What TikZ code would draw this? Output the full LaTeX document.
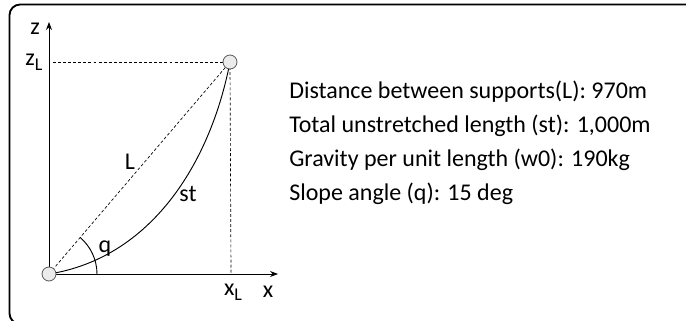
\documentclass[tikz,border=0pt]{standalone}
\usepackage{fontspec}
\setmainfont{Carlito}
\usetikzlibrary{arrows.meta}
\newcommand{\subL}{\raisebox{-0.45ex}{\fontsize{13.5}{13.5}\selectfont L}}
\begin{document}
\begin{tikzpicture}[x=0.75pt,y=-0.75pt,
  every node/.style={font=\fontsize{18}{21}\selectfont, inner sep=0pt},
  support/.style={circle, draw=black!65, fill=black!8, line width=0.6pt, minimum size=10.5pt},
  axis/.style={line width=0.75pt, -{Stealth[length=6pt,width=4.5pt]}},
  guide/.style={line width=0.5pt, dash pattern=on 2.2pt off 1.6pt},
  cable/.style={line width=0.7pt},
  info/.style={anchor=west}]
\useasboundingbox (0,0) rectangle (686,321);
\begin{scope}
\clip (0,0) rectangle (686,321);
\draw[line width=1.4pt, rounded corners=8pt] (9.5,4.5) rectangle (760,324);
\end{scope}
\coordinate (O) at (49,274);
\coordinate (T) at (230,62);
\coordinate (ztip) at (49,22);
\coordinate (xtip) at (278,274);
\coordinate (zl) at (53,62);
\coordinate (xl) at (231,274);
\draw[axis] (O) -- (ztip);
\draw[axis] (O) -- (xtip);
\draw[guide] (zl) -- (T);
\draw[guide] (T) -- (xl);
\draw[guide] (O) -- (T);
\draw[cable] (O) .. controls (150,258) and (210,165) .. (T);
\draw[line width=0.7pt] (O) ++(48,0) arc[start angle=0, end angle=-49.5, radius=48];
\node[support] (o) at (O) {};
\node[support] (t) at (T) {};
\node (zlab) at (35,29) {z};
\node (zllab) at (34,62) {z\subL};
\node (xllab) at (233,292) {x\subL};
\node (xlab) at (268,292) {x};
\node (qlab) at (105,249) {q};
\node (Llab) at (130,162) {L};
\node (stlab) at (188,194) {st};
\node[info] (i1) at (289,92) {Distance between supports(L): 970m};
\node[info] (i2) at (289,126) {Total unstretched length (st): 1,000m};
\node[info] (i3) at (289,160) {Gravity per unit length (w0): 190kg};
\node[info] (i4) at (289,194) {Slope angle (q): 15 deg};
\end{tikzpicture}
\end{document}
